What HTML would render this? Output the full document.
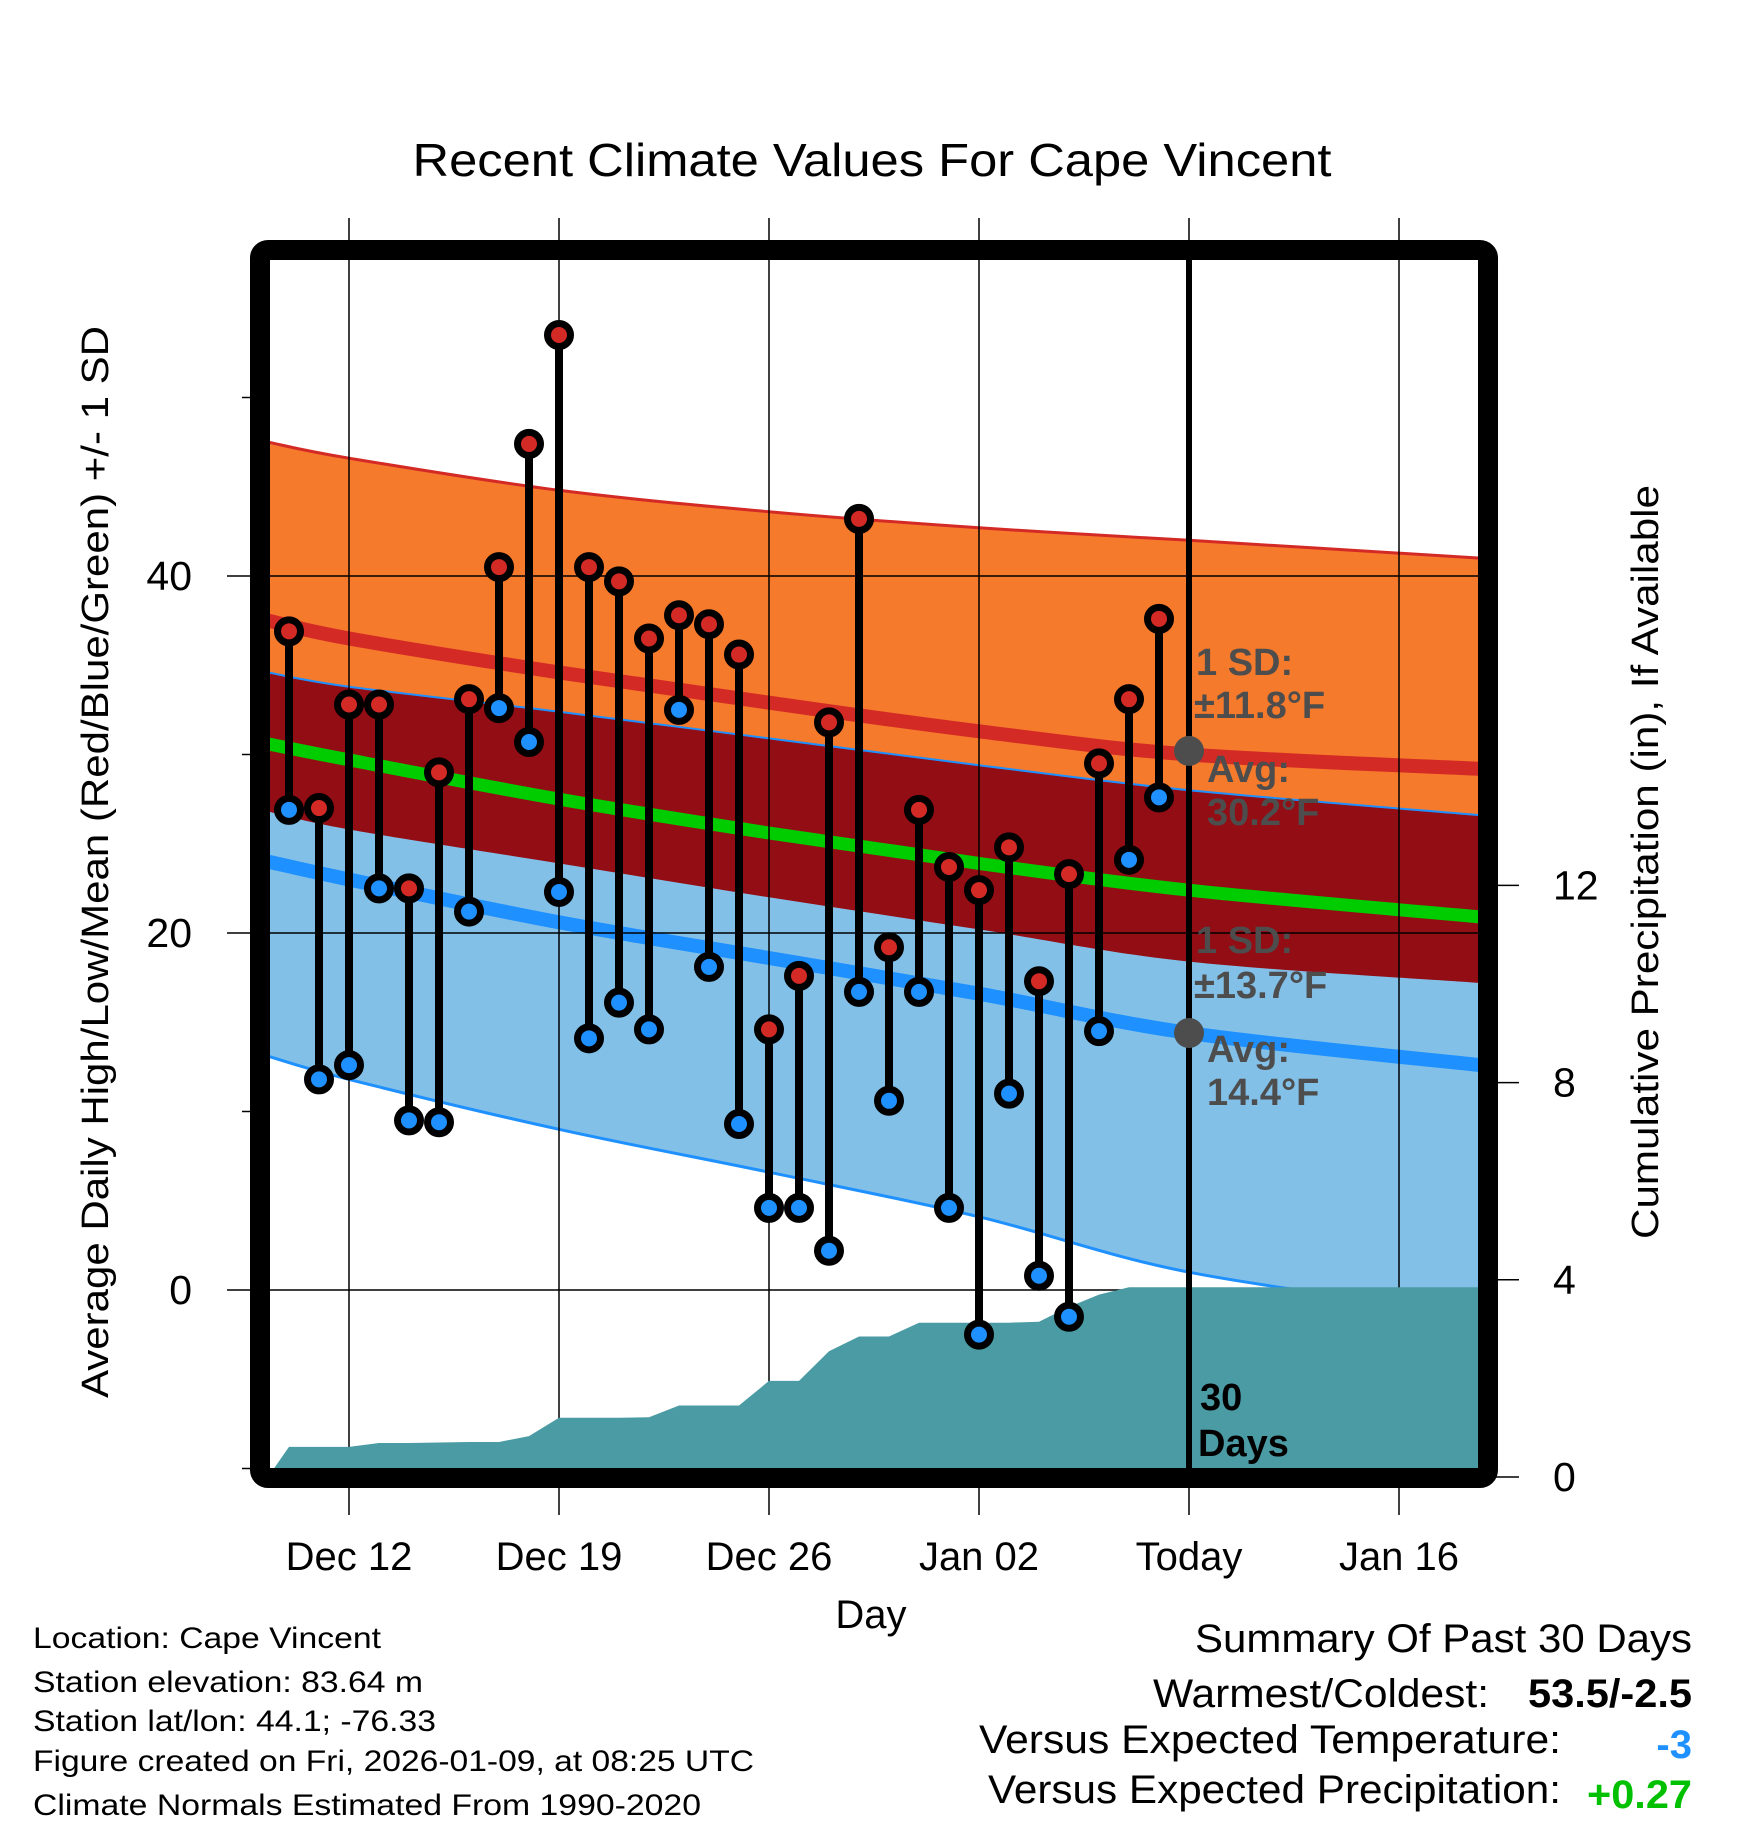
<!DOCTYPE html>
<html><head><meta charset="utf-8"><style>
html,body{margin:0;padding:0;background:#fff;}
svg{display:block;font-family:"Liberation Sans",Arial,sans-serif;}
</style></head><body>
<svg id="chart" width="1748" height="1828" viewBox="0 0 1748 1828" xmlns="http://www.w3.org/2000/svg">
<defs><clipPath id="plotclip"><rect x="270" y="260" width="1208" height="1208"/></clipPath></defs>
<text x="872" y="176" font-size="46" text-anchor="middle" textLength="919" lengthAdjust="spacingAndGlyphs">Recent Climate Values For Cape Vincent</text>
<g id="bands" clip-path="url(#plotclip)"></g>
<g id="grid"></g>
<g id="precip" clip-path="url(#plotclip)"></g>
<g id="marks"></g>
<rect x="260" y="250" width="1228" height="1228" rx="8" fill="none" stroke="#000" stroke-width="20"/>
<g id="annot"></g>
<g id="axes"></g>
<text transform="translate(108,862) rotate(-90)" font-size="38" text-anchor="middle" textLength="1072" lengthAdjust="spacingAndGlyphs">Average Daily High/Low/Mean (Red/Blue/Green) +/- 1 SD</text>
<text transform="translate(1658,862) rotate(-90)" font-size="38" text-anchor="middle" textLength="754" lengthAdjust="spacingAndGlyphs">Cumulative Precipitation (in), If Available</text>
<text x="871" y="1628" font-size="40" text-anchor="middle">Day</text>
<g font-size="30">
<text x="33" y="1648" textLength="348" lengthAdjust="spacingAndGlyphs">Location: Cape Vincent</text>
<text x="33" y="1692" textLength="390" lengthAdjust="spacingAndGlyphs">Station elevation: 83.64 m</text>
<text x="33" y="1731" textLength="403" lengthAdjust="spacingAndGlyphs">Station lat/lon: 44.1; -76.33</text>
<text x="33" y="1771" textLength="721" lengthAdjust="spacingAndGlyphs">Figure created on Fri, 2026-01-09, at 08:25 UTC</text>
<text x="33" y="1815" textLength="668" lengthAdjust="spacingAndGlyphs">Climate Normals Estimated From 1990-2020</text>
</g>
<g font-size="40">
<text x="1195" y="1652" textLength="497" lengthAdjust="spacingAndGlyphs">Summary Of Past 30 Days</text>
<text x="1153" y="1707" textLength="336" lengthAdjust="spacingAndGlyphs">Warmest/Coldest:</text>
<text x="1528" y="1707" font-weight="bold" textLength="164" lengthAdjust="spacingAndGlyphs">53.5/-2.5</text>
<text x="979" y="1753" textLength="582" lengthAdjust="spacingAndGlyphs">Versus Expected Temperature:</text>
<text x="1692" y="1758" font-weight="bold" fill="#1e90ff" text-anchor="end">-3</text>
<text x="988" y="1803" textLength="573" lengthAdjust="spacingAndGlyphs">Versus Expected Precipitation:</text>
<text x="1587" y="1808" font-weight="bold" fill="#00c000" textLength="105" lengthAdjust="spacingAndGlyphs">+0.27</text>
</g>
</svg>
<script>
// day index 0 = Dec 10
const highs = [36.9,27.0,32.8,32.8,22.5,29.0,33.1,40.5,47.4,53.5,40.5,39.7,36.5,37.8,37.3,35.6,14.6,17.6,31.8,43.2,19.2,26.9,23.7,22.4,24.8,17.3,23.3,29.5,33.1,37.6];
const lows = [26.9,11.8,12.6,22.5,9.5,9.4,21.2,32.6,30.7,22.3,14.1,16.1,14.6,32.5,18.1,9.3,4.6,4.6,2.2,16.7,10.6,16.7,4.6,-2.5,11.0,0.8,-1.5,14.5,24.1,27.6];
const cumPrecip = [0.61,0.61,0.61,0.69,0.69,0.70,0.71,0.71,0.83,1.20,1.20,1.20,1.21,1.45,1.45,1.45,1.95,1.95,2.55,2.85,2.85,3.13,3.13,3.13,3.13,3.15,3.45,3.70,3.85,3.85];
const normDays = [-0.7,2,9,16,23,30,39.7];
const normHighPlus = [47.5,46.6,44.8,43.6,42.7,42.0,41.0];
const normHigh = [37.5,36.5,34.6,32.9,31.3,30.0,29.2];
const normHighMinus = [26.8,25.8,23.9,22.0,20.2,18.4,17.2];
const normMean = [30.6,29.7,27.5,25.6,23.9,22.4,20.9];
const normLowPlus = [34.6,33.8,32.4,30.9,29.4,28.0,26.6];
const normLow = [24.0,23.0,20.6,18.6,16.6,14.4,12.6];
const normLowMinus = [13.1,11.8,9.0,6.6,4.1,1.0,-1.4];
const xTickDays = [2,9,16,23,30,37];
const xTickLabels = ["Dec 12","Dec 19","Dec 26","Jan 02","Today","Jan 16"];
const yTicks = [0,20,40];
const yMinorTicks = [-10,10,30,50];
const y2Ticks = [0,4,8,12];
const todayDay = 30;
const avgHigh = 30.2, avgLow = 14.4;

const NS = "http://www.w3.org/2000/svg";
const X = d => 349 + (d - 2) * 30;
const Y = t => 1290 - t * 17.85;
const YP = p => 1477 - p * 49.3;
function mk(tag, attrs, parent){ const e=document.createElementNS(NS,tag); for(const k in attrs) e.setAttribute(k,attrs[k]); parent.appendChild(e); return e; }
function pts(arr){ return normDays.map((d,i)=>[X(d),Y(arr[i])]); }
// smooth catmull-rom segments; returns path commands (without initial M)
function smooth(p){
  let s = "";
  for(let i=0;i<p.length-1;i++){
    const p0=p[Math.max(0,i-1)], p1=p[i], p2=p[i+1], p3=p[Math.min(p.length-1,i+2)];
    const c1=[p1[0]+(p2[0]-p0[0])/6, p1[1]+(p2[1]-p0[1])/6];
    const c2=[p2[0]-(p3[0]-p1[0])/6, p2[1]-(p3[1]-p1[1])/6];
    s += ` C${c1[0].toFixed(1)},${c1[1].toFixed(1)} ${c2[0].toFixed(1)},${c2[1].toFixed(1)} ${p2[0].toFixed(1)},${p2[1].toFixed(1)}`;
  }
  return s;
}
function linePath(arr){ const p=pts(arr); return `M${p[0][0]},${p[0][1].toFixed(1)}`+smooth(p); }
function bandPath(a,b){ const pa=pts(a), pb=pts(b).reverse(); return `M${pa[0][0]},${pa[0][1].toFixed(1)}`+smooth(pa)+` L${pb[0][0]},${pb[0][1].toFixed(1)}`+smooth(pb)+" Z"; }

const bands = document.getElementById('bands');
let e;
e = mk('path',{d:bandPath(normHighPlus,normHighMinus),fill:'#f57a2c'},bands);


e = mk('path',{d:bandPath(normLowPlus,normLowMinus),fill:'#82c0e8'},bands);


e = mk('path',{d:bandPath(normLowPlus,normHighMinus),fill:'#930d14'},bands);


const lineSpecs = [[normHighPlus,'#d42a26',3,'high-plus-sd-line'],[normHigh,'#d42a26',14,'normal-high-line'],[normLowPlus,'#1e90ff',2,'low-plus-sd-line'],[normMean,'#00cc00',13,'normal-mean-line'],[normLow,'#1e90ff',14,'normal-low-line'],[normLowMinus,'#1e90ff',3,'low-minus-sd-line']];
lineSpecs.forEach(s=>{
  e = mk('path',{d:linePath(s[0]),fill:'none',stroke:s[1],'stroke-width':s[2]},bands);
  
  
});

const grid = document.getElementById('grid');
xTickDays.forEach((d,i)=>{
  e = mk('line',{x1:X(d),x2:X(d),y1:218,y2:1515,stroke:'#000','stroke-width':1.5},grid);
  
  
});
yTicks.forEach(t=>{
  e = mk('line',{x1:227,x2:1478,y1:Y(t),y2:Y(t),stroke:'#000','stroke-width':1.5},grid);
  
  
});

const precip = document.getElementById('precip');
let pp = [X(-0.7)+","+YP(0)];
cumPrecip.forEach((p,i)=>pp.push(X(i)+","+YP(p).toFixed(1)));
pp.push("1480,"+YP(cumPrecip[cumPrecip.length-1]).toFixed(1));
pp.push("1480,1480");
pp.push(X(-0.7)+",1480");
e = mk('polygon',{points:pp.join(" "),fill:'#4a9ba4'},precip);



const marks = document.getElementById('marks');
e = mk('line',{x1:X(todayDay),x2:X(todayDay),y1:255,y2:1472,stroke:'#000','stroke-width':6},marks);


highs.forEach((h,i)=>{
  const l = lows[i];
  e = mk('line',{x1:X(i),x2:X(i),y1:Y(h),y2:Y(l),stroke:'#000','stroke-width':8},marks);
  
  
  e = mk('circle',{cx:X(i),cy:Y(h),r:11.5,fill:'#d42a26',stroke:'#000','stroke-width':7},marks);
  
  
  e = mk('circle',{cx:X(i),cy:Y(l),r:11.5,fill:'#1e90ff',stroke:'#000','stroke-width':7},marks);
  
  
});

const annot = document.getElementById('annot');
e = mk('circle',{cx:X(todayDay),cy:Y(avgHigh),r:15,fill:'#4d4d4d'},annot);


e = mk('circle',{cx:X(todayDay),cy:Y(avgLow),r:15,fill:'#4d4d4d'},annot);


const labels = [[1196,675,'1 SD:'],[1194,718,'±11.8°F'],[1207,782,'Avg:'],[1207,825,'30.2°F'],[1196,953,'1 SD:'],[1194,998,'±13.7°F'],[1207,1062,'Avg:'],[1207,1105,'14.4°F']];
labels.forEach(l=>{
  e = mk('text',{x:l[0],y:l[1],'font-size':38,'font-weight':'bold',fill:'#4d4d4d'},annot);
  e.textContent = l[2];
  
  
});
e = mk('text',{x:1200,y:1410,'font-size':38,'font-weight':'bold',fill:'#000'},annot);
e.textContent = '30';


e = mk('text',{x:1198,y:1456,'font-size':38,'font-weight':'bold',fill:'#000'},annot);
e.textContent = 'Days';



const axes = document.getElementById('axes');
xTickDays.forEach((d,i)=>{
  e = mk('text',{x:X(d),y:1570,'font-size':40,'text-anchor':'middle'},axes);
  e.textContent = xTickLabels[i];
  
  
});
yTicks.forEach(t=>{
  e = mk('text',{x:192,y:Y(t)+14,'font-size':41,'text-anchor':'end'},axes);
  e.textContent = String(t);
  
  
});
yMinorTicks.forEach(t=>{
  e = mk('line',{x1:242,x2:252,y1:Y(t),y2:Y(t),stroke:'#000','stroke-width':1.5},axes);
  
  
});
y2Ticks.forEach(p=>{
  e = mk('line',{x1:1496,x2:1519,y1:YP(p),y2:YP(p),stroke:'#000','stroke-width':1.5},axes);
  
  
  e = mk('text',{x:1553,y:YP(p)+14,'font-size':41},axes);
  e.textContent = String(p);
  
  
});
</script>
</body></html>
